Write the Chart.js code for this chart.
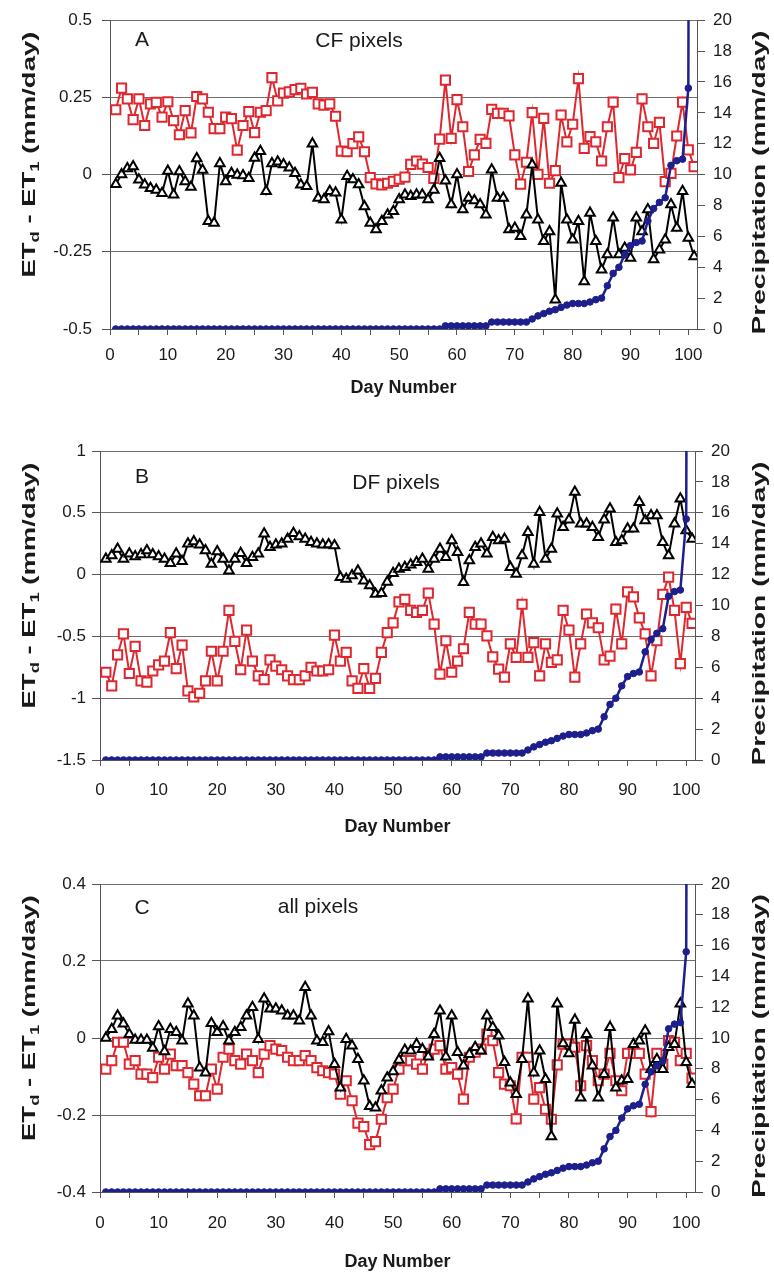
<!DOCTYPE html>
<html>
<head>
<meta charset="utf-8">
<script src="https://cdn.jsdelivr.net/npm/chart.js@4.4.1/dist/chart.umd.min.js"></script>
<style>
  html, body { margin: 0; padding: 0; background: #fff; }
  canvas { position: absolute; left: 0; }
</style>
</head>
<body>
<canvas id="chartA" width="774" height="410" style="top:0px"></canvas>
<canvas id="chartB" width="774" height="420" style="top:430px"></canvas>
<canvas id="chartC" width="774" height="413" style="top:862px"></canvas>
<script>
// day numbers (x) shared by every panel
const days = Array.from({ length: 101 }, (_, i) => i + 1);

// daily precipitation, same record in all three panels (mm/day)
const precip = [
  0, 0, 0, 0, 0, 0, 0, 0, 0, 0,
  0, 0, 0, 0, 0, 0, 0, 0, 0, 0,
  0, 0, 0, 0, 0, 0, 0, 0, 0, 0,
  0, 0, 0, 0, 0, 0, 0, 0, 0, 0,
  0, 0, 0, 0, 0, 0, 0, 0, 0, 0,
  0, 0, 0, 0, 0, 0, 0, 0.2, 0.2, 0.2,
  0.2, 0.2, 0.2, 0.2, 0.2, 0.45, 0.45, 0.45, 0.45, 0.45,
  0.45, 0.45, 0.65, 0.85, 1.0, 1.15, 1.25, 1.4, 1.55, 1.65,
  1.65, 1.65, 1.75, 1.9, 2.0, 2.8, 3.6, 4.0, 4.8, 5.4,
  5.6, 5.7, 7.0, 7.8, 8.2, 8.5, 10.6, 10.9, 11.0, 15.6,
  150
];

// CF pixels
const cfTri = [
  -0.031, 0.0, 0.02, 0.026, -0.017, -0.033, -0.044, -0.05, -0.06, 0.012,
  -0.065, 0.01, -0.022, -0.04, 0.052, 0.015, -0.151, -0.157, 0.036, -0.022,
  0.004, -0.001, -0.003, -0.012, 0.054, 0.076, -0.054, 0.036, 0.042, 0.033,
  0.022, 0.004, -0.033, -0.038, 0.1, -0.076, -0.081, -0.054, -0.059, -0.146,
  -0.005, -0.016, -0.032, -0.103, -0.157, -0.178, -0.151, -0.13, -0.119, -0.081,
  -0.065, -0.07, -0.065, -0.065, -0.081, -0.05, 0.053, -0.02, -0.097, 0.0,
  -0.113, -0.076, -0.084, -0.097, -0.13, 0.016, -0.076, -0.076, -0.178, -0.173,
  -0.2, -0.13, 0.032, -0.146, -0.216, -0.184, -0.405, -0.027, -0.146, -0.211,
  -0.151, -0.346, -0.124, -0.216, -0.308, -0.259, -0.14, -0.259, -0.238, -0.27,
  -0.14, -0.184, -0.113, -0.275, -0.243, -0.211, -0.097, -0.173, -0.054, -0.205,
  -0.265
];
const cfSq = [
  0.21, 0.28, 0.245, 0.178, 0.245, 0.159, 0.229, 0.234, 0.186, 0.236,
  0.175, 0.129, 0.207, 0.135, 0.253, 0.245, 0.202, 0.149, 0.149, 0.186,
  0.181, 0.079, 0.159, 0.204, 0.136, 0.202, 0.207, 0.314, 0.239, 0.264,
  0.268, 0.275, 0.279, 0.261, 0.266, 0.229, 0.225, 0.229, 0.189, 0.076,
  0.074, 0.1, 0.122, 0.074, -0.01, -0.03, -0.033, -0.028, -0.022, -0.015,
  -0.008, 0.033, 0.044, 0.034, 0.023, -0.012, 0.115, 0.306, 0.117, 0.243,
  0.155, 0.01, 0.064, 0.114, 0.101, 0.211, 0.198, 0.198, 0.19, 0.064,
  -0.031, 0.04, 0.201, 0.001, 0.182, -0.028, 0.013, 0.193, 0.106, 0.163,
  0.311, 0.085, 0.123, 0.106, 0.044, 0.155, 0.235, -0.01, 0.052, 0.015,
  0.072, 0.245, 0.155, 0.101, 0.169, -0.023, 0.004, 0.125, 0.235, 0.08,
  0.026
];

// DF pixels
const dfTri = [
  0.127, 0.154, 0.208, 0.127, 0.168, 0.146, 0.162, 0.195, 0.162, 0.146,
  0.127, 0.092, 0.168, 0.108, 0.249, 0.268, 0.241, 0.195, 0.086, 0.186,
  0.127, 0.032, 0.127, 0.173, 0.092, 0.141, 0.168, 0.33, 0.222, 0.241,
  0.249, 0.289, 0.335, 0.308, 0.289, 0.262, 0.249, 0.241, 0.243, 0.235,
  -0.022, -0.035, -0.008, 0.032, -0.049, -0.089, -0.157, -0.15, -0.06, 0.01,
  0.046, 0.059, 0.08, 0.1, 0.127, 0.046, 0.127, 0.208, 0.141, 0.276,
  0.181, -0.062, 0.114, 0.222, 0.249, 0.168, 0.303, 0.276, 0.289, 0.059,
  0.005, 0.154, 0.343, 0.086, 0.505, 0.127, 0.208, 0.492, 0.384, 0.443,
  0.668, 0.411, 0.411, 0.384, 0.303, 0.443, 0.532, 0.262, 0.276, 0.37,
  0.37, 0.586, 0.438, 0.478, 0.478, 0.262, 0.154, 0.411, 0.614, 0.357,
  0.289
];
const dfSq = [
  -0.79, -0.9, -0.65, -0.48, -0.8, -0.58, -0.86, -0.87, -0.78, -0.73,
  -0.7, -0.47, -0.76, -0.57, -0.94, -0.99, -0.96, -0.86, -0.62, -0.86,
  -0.62, -0.29, -0.54, -0.77, -0.45, -0.7, -0.82, -0.85, -0.69, -0.74,
  -0.77, -0.82, -0.85, -0.85, -0.82, -0.75, -0.78, -0.78, -0.77, -0.49,
  -0.7, -0.63, -0.86, -0.92, -0.76, -0.92, -0.84, -0.63, -0.47, -0.39,
  -0.22, -0.2, -0.29, -0.305, -0.29, -0.15, -0.4, -0.805, -0.535, -0.79,
  -0.7, -0.6, -0.305, -0.4, -0.4, -0.495, -0.665, -0.765, -0.83, -0.56,
  -0.67, -0.24, -0.67, -0.55, -0.82, -0.56, -0.71, -0.69, -0.29, -0.45,
  -0.83, -0.56, -0.32, -0.39, -0.43, -0.69, -0.66, -0.28, -0.56, -0.14,
  -0.18, -0.35, -0.48, -0.82, -0.535, -0.16, -0.02, -0.29, -0.72, -0.265,
  -0.395
];

// all pixels
const allTri = [
  0.0, 0.023, 0.058, 0.037, 0.01, -0.005, -0.005, -0.005, -0.026, 0.03,
  -0.035, 0.023, 0.015, -0.007, 0.089, 0.058, -0.077, -0.09, 0.038, 0.015,
  0.03, -0.007, 0.015, 0.028, 0.058, 0.08, -0.003, 0.102, 0.076, 0.076,
  0.071, 0.058, 0.058, 0.045, 0.132, 0.058, -0.007, -0.011, 0.017, -0.068,
  -0.129, -0.003, -0.02, -0.055, -0.111, -0.177, -0.181, -0.137, -0.103, -0.087,
  -0.057, -0.031, -0.033, -0.016, -0.029, -0.049, 0.01, 0.071, -0.049, 0.058,
  -0.037, -0.072, -0.042, -0.024, -0.033, 0.058, 0.028, 0.006, -0.063, -0.116,
  -0.146, -0.055, 0.102, -0.09, -0.033, -0.107, -0.256, 0.089, -0.014, -0.04,
  0.047, -0.155, 0.01, -0.072, -0.155, -0.094, 0.028, -0.129, -0.111, -0.107,
  -0.016, -0.007, 0.019, -0.081, -0.055, -0.081, -0.024, -0.016, 0.089, -0.063,
  -0.12
];
const allSq = [
  -0.081, -0.059, -0.011, -0.011, -0.068, -0.059, -0.094, -0.094, -0.103, -0.05,
  -0.081, -0.042, -0.072, -0.072, -0.09, -0.12, -0.15, -0.15, -0.081, -0.133,
  -0.05, -0.029, -0.059, -0.068, -0.042, -0.059, -0.09, -0.042, -0.02, -0.029,
  -0.033, -0.05, -0.059, -0.059, -0.046, -0.059, -0.077, -0.085, -0.09, -0.094,
  -0.146, -0.111, -0.163, -0.221, -0.23, -0.277, -0.269, -0.211, -0.155, -0.133,
  -0.081, -0.059, -0.059, -0.068, -0.081, -0.04, -0.029, -0.02, -0.081, -0.077,
  -0.094, -0.159, -0.05, -0.037, -0.029, 0.01, -0.007, -0.09, -0.12, -0.124,
  -0.21, -0.05, -0.05, -0.159, -0.129, -0.185, -0.211, -0.07, -0.016, -0.016,
  -0.024, -0.124, -0.02, -0.059, -0.111, -0.094, -0.04, -0.111, -0.137, -0.04,
  -0.04, -0.04, -0.094, -0.191, -0.04, -0.068, -0.007, -0.011, -0.059, -0.04,
  -0.104
];

// axis ticks
const xTicks = [0, 5, 10, 15, 20, 25, 30, 35, 40, 45, 50, 55, 60, 65, 70, 75, 80, 85, 90, 95, 100];
const precipTicks = [0, 2, 4, 6, 8, 10, 12, 14, 16, 18, 20];
const cfTicks = [-0.5, -0.25, 0, 0.25, 0.5];
const dfTicks = [-1.5, -1, -0.5, 0, 0.5, 1];
const allTicks = [-0.4, -0.2, 0, 0.2, 0.4];

const FONT = '"Liberation Sans", Arial, Helvetica, sans-serif';
const RED = '#de2830';
const NAVY = '#1c1f8c';
const GRID = '#6f6f6f';
const AXIS = '#555';
const TEXT = '#1a1a1a';

Chart.defaults.font.family = FONT;

const pairs = ys => days.map((d, i) => ({ x: d, y: ys[i] }));

// draws a run of text pieces rotated to read bottom-to-top, stretched to a given length
function rotatedText(ctx, parts, baseX, midY, length) {
  let total = 0;
  parts.forEach(p => {
    ctx.font = `bold ${p.size}px ${FONT}`;
    p.w = ctx.measureText(p.text).width;
    total += p.w;
  });
  ctx.save();
  ctx.translate(baseX, midY);
  ctx.rotate(-Math.PI / 2);
  ctx.scale(length / total, 1);
  ctx.textAlign = 'left';
  ctx.textBaseline = 'alphabetic';
  let x = -total / 2;
  parts.forEach(p => {
    ctx.font = `bold ${p.size}px ${FONT}`;
    ctx.fillText(p.text, x, p.dy || 0);
    x += p.w;
  });
  ctx.restore();
}

const panelText = {
  id: 'panelText',
  afterDraw(chart, args, o) {
    const { ctx, chartArea: a } = chart;
    const midY = (a.top + a.bottom) / 2;
    ctx.save();
    ctx.fillStyle = TEXT;
    ctx.textAlign = 'center';
    ctx.textBaseline = 'middle';
    ctx.font = `21px ${FONT}`;
    ctx.fillText(o.letter, 142, a.top + o.letterDy);
    ctx.fillText(o.name, o.nameX, a.top + o.nameDy);

    ctx.font = `bold 18px ${FONT}`;
    ctx.fillText('Day Number', (a.left + a.right) / 2, a.bottom + o.titleDy);

    rotatedText(ctx, [
      { text: 'ET', size: 18 },
      { text: 'd', size: 12, dy: 4 },
      { text: ' - ET', size: 18 },
      { text: '1', size: 12, dy: 4 },
      { text: ' (mm/day)', size: 18 }
    ], 35, midY - 20, 246);
    rotatedText(ctx, [{ text: 'Precipitation (mm/day)', size: 18 }], 765, midY + 8, 304);
    ctx.restore();
  }
};

function makePanel(id, p) {
  return new Chart(document.getElementById(id), {
    type: 'line',
    data: {
      datasets: [
        {
          data: pairs(precip), yAxisID: 'yR', order: 0,
          borderColor: NAVY, backgroundColor: NAVY, borderWidth: 2.5,
          pointStyle: 'circle', pointRadius: 3.3, pointBorderWidth: 1
        },
        {
          data: pairs(p.tri), yAxisID: 'y', order: 1,
          borderColor: '#000', backgroundColor: '#fff', borderWidth: 2,
          pointStyle: 'triangle', pointRadius: 5.5, pointBorderWidth: 2
        },
        {
          data: pairs(p.sq), yAxisID: 'y', order: 2,
          borderColor: RED, backgroundColor: '#fff', borderWidth: 2,
          pointStyle: 'rect', pointRadius: 6.5, pointBorderWidth: 2
        }
      ]
    },
    options: {
      responsive: false,
      animation: false,
      events: [],
      layout: { padding: { top: p.padTop, left: 0, right: 0, bottom: 0 } },
      plugins: {
        legend: { display: false },
        tooltip: { enabled: false },
        panelText: p.text
      },
      scales: {
        x: {
          type: 'linear', min: 0, max: 101.5,
          afterBuildTicks: s => { s.ticks = xTicks.map(v => ({ value: v })); },
          afterFit: s => { s.height = p.xHeight; },
          ticks: {
            autoSkip: false, maxRotation: 0, padding: p.xPad,
            color: TEXT, font: { size: 17 },
            callback: v => (v % 10 === 0 ? String(v) : '')
          },
          grid: { drawOnChartArea: false, tickLength: 6, color: AXIS },
          border: { color: AXIS, width: 1 }
        },
        y: {
          position: 'left', min: p.ticks[0], max: p.ticks[p.ticks.length - 1],
          afterBuildTicks: s => { s.ticks = p.ticks.map(v => ({ value: v })); },
          afterFit: s => { s.width = p.leftWidth; },
          ticks: { padding: p.leftPad, color: TEXT, font: { size: 17 }, callback: v => String(v) },
          grid: { color: GRID, lineWidth: 1, tickLength: 8, tickColor: AXIS },
          border: { color: AXIS, width: 1 }
        },
        yR: {
          position: 'right', min: 0, max: 20,
          afterBuildTicks: s => { s.ticks = precipTicks.map(v => ({ value: v })); },
          afterFit: s => { s.width = 774 - p.rightEdge; },
          ticks: { padding: 8, color: TEXT, font: { size: 17 } },
          grid: { drawOnChartArea: false, tickLength: 8, color: AXIS },
          border: { color: AXIS, width: 1 }
        }
      }
    },
    plugins: [panelText]
  });
}

makePanel('chartA', {
  tri: cfTri, sq: cfSq, ticks: cfTicks,
  padTop: 17, xHeight: 81, xPad: 10, leftWidth: 110, leftPad: 10, rightEdge: 697,
  text: { letter: 'A', letterDy: 20, name: 'CF pixels', nameX: 359, nameDy: 21, titleDy: 59 }
});
makePanel('chartB', {
  tri: dfTri, sq: dfSq, ticks: dfTicks,
  padTop: 21, xHeight: 90, xPad: 14, leftWidth: 100, leftPad: 6, rightEdge: 695,
  text: { letter: 'B', letterDy: 26, name: 'DF pixels', nameX: 396, nameDy: 32, titleDy: 67 }
});
makePanel('chartC', {
  tri: allTri, sq: allSq, ticks: allTicks,
  padTop: 22, xHeight: 83, xPad: 15, leftWidth: 100, leftPad: 6, rightEdge: 695,
  text: { letter: 'C', letterDy: 24, name: 'all pixels', nameX: 318, nameDy: 23, titleDy: 70 }
});
</script>
</body>
</html>
